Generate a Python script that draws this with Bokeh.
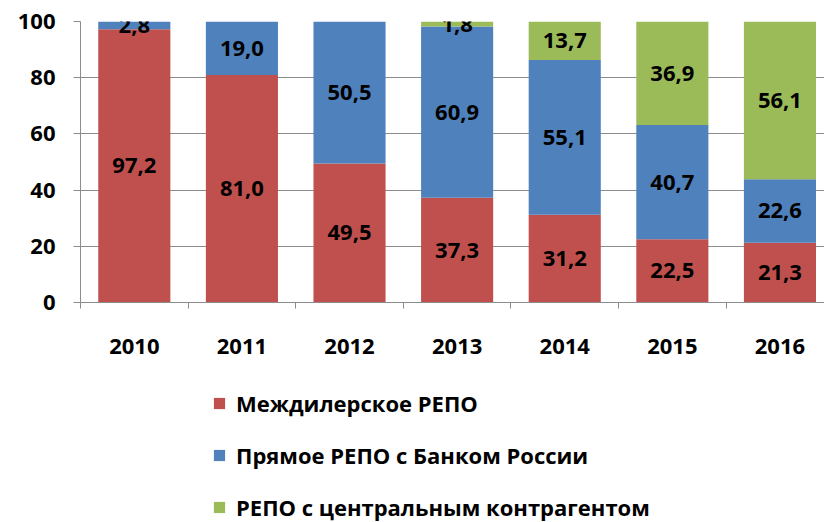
from bokeh.plotting import figure
from bokeh.layouts import column
from bokeh.models import (Range1d, FixedTicker, ColumnDataSource, LabelSet, Legend, LegendItem)
from bokeh.core.properties import value
from bokeh.embed import file_html
from bokeh.resources import INLINE

years = ["2010", "2011", "2012", "2013", "2014", "2015", "2016"]
interdealer = [97.2, 81.0, 49.5, 37.3, 31.2, 22.5, 21.3]
direct_cbr = [2.8, 19.0, 50.5, 60.9, 55.1, 40.7, 22.6]
ccp = [0.0, 0.0, 0.0, 1.8, 13.7, 36.9, 56.1]
series_names = ["Междилерское РЕПО", "Прямое РЕПО с Банком России", "РЕПО с центральным контрагентом"]
colors = ["#C0504D", "#4F81BD", "#9BBB59"]
y_ticks = [0, 20, 40, 60, 80, 100]

FONT = "Open Sans"
FS = "22px"

x = [i + 0.5 for i in range(len(years))]
series = [interdealer, direct_cbr, ccp]

p = figure(frame_width=744, frame_height=281, output_backend="svg", toolbar_location=None,
           x_range=Range1d(0, 6.914), y_range=Range1d(0, 100),
           min_border_left=80, min_border_right=0, min_border_top=21, min_border_bottom=70)
p.outline_line_color = None
p.xgrid.grid_line_color = None
p.ygrid.grid_line_color = "#8C8C8C"
p.ygrid.ticker = FixedTicker(ticks=y_ticks)

bottom = [0.0] * len(years)
for vals, col in zip(series, colors):
    top = [b + v for b, v in zip(bottom, vals)]
    src = ColumnDataSource(dict(x=x, bottom=bottom, top=top,
                                mid=[(b + t) / 2 for b, t in zip(bottom, top)],
                                lab=[("%.1f" % v).replace(".", ",") if v > 0 else "" for v in vals]))
    p.vbar(x="x", bottom="bottom", top="top", width=0.67, source=src,
           fill_color=col, line_color=None)
    p.add_layout(LabelSet(x="x", y="mid", text="lab", source=src, text_align="center",
                          text_baseline="middle", text_font=value(FONT), text_font_style="bold",
                          text_font_size=FS, text_color="black"))
    bottom = top

# axes
p.yaxis.ticker = FixedTicker(ticks=y_ticks)
p.yaxis.axis_line_color = "#8C8C8C"
p.yaxis.major_tick_line_color = "#8C8C8C"
p.yaxis.major_tick_out = 7
p.yaxis.major_tick_in = 0
p.yaxis.minor_tick_line_color = None
p.yaxis.major_label_standoff = 18
p.yaxis.major_label_text_font = FONT
p.yaxis.major_label_text_font_style = "bold"
p.yaxis.major_label_text_font_size = FS
p.yaxis.major_label_text_color = "black"

p.xaxis.ticker = FixedTicker(ticks=x, minor_ticks=list(range(len(years) + 1)))
p.xaxis.major_label_overrides = {xi: y for xi, y in zip(x, years)}
p.xaxis.axis_line_color = "#8C8C8C"
p.xaxis.major_tick_line_color = None
p.xaxis.major_tick_out = 0
p.xaxis.major_tick_in = 0
p.xaxis.minor_tick_line_color = "#8C8C8C"
p.xaxis.minor_tick_out = 6
p.xaxis.minor_tick_in = 0
p.xaxis.major_label_standoff = 30
p.xaxis.major_label_text_font = FONT
p.xaxis.major_label_text_font_style = "bold"
p.xaxis.major_label_text_font_size = FS
p.xaxis.major_label_text_color = "black"

# legend figure below the chart (its frame is aligned with the chart frame)
lf = figure(frame_width=744, height=150, output_backend="svg", toolbar_location=None,
            x_range=Range1d(0, 1), y_range=Range1d(0, 1),
            x_axis_location=None, y_axis_location=None,
            min_border_left=80, min_border_right=0, min_border_top=0, min_border_bottom=0)
lf.outline_line_color = None
lf.xgrid.grid_line_color = None
lf.ygrid.grid_line_color = None
items = []
for n, col in zip(series_names, colors):
    # placeholder renderer outside the visible range, only used for the legend swatch
    r = lf.vbar(x=[-5], top=[-5], bottom=[-6], width=0.1, fill_color=col, line_color=None)
    items.append(LegendItem(label=n, renderers=[r]))
legend = Legend(items=items, orientation="vertical", location=(132, 0))
legend.border_line_color = None
legend.background_fill_alpha = 0
legend.glyph_width = 14
legend.glyph_height = 14
legend.label_standoff = 10
legend.spacing = 22
legend.label_text_font = FONT
legend.label_text_font_style = "bold"
legend.label_text_font_size = FS
legend.label_text_color = "black"
legend.margin = 0
legend.padding = 0
lf.add_layout(legend, "center")

layout = column(p, lf, spacing=0)
open("out.html", "w").write(file_html(layout, INLINE))
